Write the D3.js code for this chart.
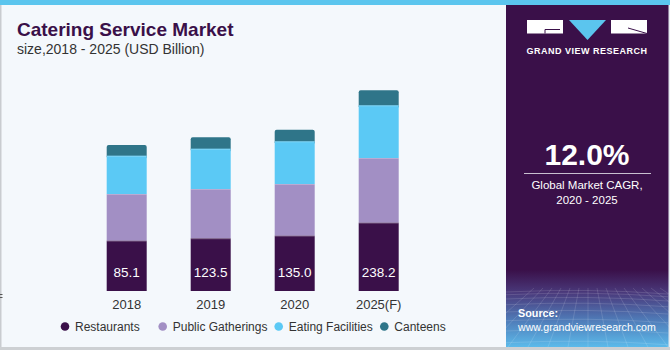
<!DOCTYPE html>
<html>
<head>
<meta charset="utf-8">
<script src="https://cdn.jsdelivr.net/npm/d3@7"></script>
<style>
  html, body { margin: 0; padding: 0; background: #fff; }
  svg { display: block; font-family: "Liberation Sans", Arial, sans-serif; }
</style>
</head>
<body>
<div id="chart"></div>
<script>
// chart values (segment heights, labels as printed)
const years = ["2018", "2019", "2020", "2025(F)"]
const restaurants = [50.3, 52.7, 55.3, 68.3]
const publicGatherings = [46.7, 49.3, 51.7, 64.7]
const eatingFacilities = [38.3, 40.3, 42.7, 52.7]
const canteens = [10.7, 11.4, 11.6, 15.0]
const valueLabels = ["85.1", "123.5", "135.0", "238.2"]
const seriesNames = ["Restaurants", "Public Gatherings", "Eating Facilities", "Canteens"]
const seriesColors = ["#3a1049", "#a28fc4", "#5bc9f5", "#2f7589"]

const width = 670, height = 350

const svg = d3.select("#chart").append("svg")
  .attr("width", width)
  .attr("height", height)

// background + borders
svg.append("rect").attr("x", 0).attr("y", 0).attr("width", width).attr("height", height).attr("fill", "#f4f8fc")
svg.append("rect").attr("x", 0).attr("y", 0).attr("width", 1.5).attr("height", height).attr("fill", "#c9ccd0")
svg.append("rect").attr("x", 0).attr("y", height - 3).attr("width", width).attr("height", 3).attr("fill", "#cdd0d3")
svg.append("rect").attr("x", 0).attr("y", 0).attr("width", width).attr("height", 5).attr("fill", "#5bc5ee")

// title
svg.append("text")
  .attr("x", 17).attr("y", 36)
  .attr("font-size", 19).attr("font-weight", "bold")
  .attr("fill", "#3a1049")
  .text("Catering Service Market")
svg.append("text")
  .attr("x", 17).attr("y", 54)
  .attr("font-size", 14)
  .attr("fill", "#333")
  .text("size,2018 - 2025 (USD Billion)")

// stacked bars
let table = years.map(function (y, i) {
  return {
    year: y,
    Restaurants: restaurants[i],
    "Public Gatherings": publicGatherings[i],
    "Eating Facilities": eatingFacilities[i],
    Canteens: canteens[i]
  }
})
let stacked = d3.stack().keys(seriesNames)(table)

let xScale = d3.scaleBand()
  .domain(years)
  .range([84.7, 420.7])
  .paddingInner(0.5238)
  .paddingOuter(0.2619)

let yScale = d3.scaleLinear()
  .domain([0, 200])
  .range([291, 91])

// draw top layer first so the rounded corners only show on top
stacked.slice().reverse().forEach(function (layer) {
  let idx = seriesNames.indexOf(layer.key)
  let isTop = idx === seriesNames.length - 1
  svg.append("g")
    .selectAll("rect")
    .data(layer)
    .join("rect")
    .attr("x", function (d) { return xScale(d.data.year) })
    .attr("y", function (d) { return yScale(d[1]) })
    .attr("width", xScale.bandwidth())
    .attr("height", function (d) { return yScale(d[0]) - yScale(d[1]) + (isTop ? 3 : 0) })
    .attr("rx", isTop ? 2 : 0)
    .attr("fill", seriesColors[idx])
})

// thin lighter seams between segments
stacked.slice(1).forEach(function (layer) {
  svg.append("g")
    .selectAll("line")
    .data(layer)
    .join("line")
    .attr("x1", function (d) { return xScale(d.data.year) })
    .attr("x2", function (d) { return xScale(d.data.year) + xScale.bandwidth() })
    .attr("y1", function (d) { return yScale(d[0]) + 0.5 })
    .attr("y2", function (d) { return yScale(d[0]) + 0.5 })
    .attr("stroke", "#ffffff")
    .attr("stroke-opacity", 0.25)
})

// value labels inside the bottom segment
svg.append("g")
  .selectAll("text")
  .data(years)
  .join("text")
  .attr("x", function (d) { return xScale(d) + xScale.bandwidth() / 2 })
  .attr("y", 277)
  .attr("text-anchor", "middle")
  .attr("font-size", 13.5)
  .attr("fill", "#fff")
  .text(function (d, i) { return valueLabels[i] })

// x axis (labels only)
let xAxis = d3.axisBottom(xScale).tickSize(0).tickPadding(9)
let xg = svg.append("g")
  .attr("transform", "translate(0,291)")
  .call(xAxis)
xg.select(".domain").remove()
xg.selectAll("text")
  .attr("font-size", 13)
  .attr("font-family", "Liberation Sans, Arial, sans-serif")
  .attr("fill", "#333")

// tiny stray mark on the left edge
svg.append("rect").attr("x", 0).attr("y", 294).attr("width", 2.5).attr("height", 1).attr("fill", "#555")
svg.append("rect").attr("x", 0).attr("y", 297).attr("width", 2.5).attr("height", 1).attr("fill", "#555")

// legend
const legendX = [65, 162.7, 278.7, 384.3]
let legend = svg.append("g")
  .selectAll("g")
  .data(seriesNames)
  .join("g")
  .attr("transform", function (d, i) { return "translate(" + legendX[i] + ",326.5)" })
legend.append("circle")
  .attr("r", 4.3)
  .attr("fill", function (d, i) { return seriesColors[i] })
legend.append("text")
  .attr("x", 10)
  .attr("y", 4.3)
  .attr("font-size", 12)
  .attr("fill", "#333")
  .text(function (d) { return d })

// right side panel
let panel = svg.append("g")
let defs = svg.append("defs")
let grad = defs.append("linearGradient")
  .attr("id", "srcGrad")
  .attr("x1", 0).attr("y1", 0).attr("x2", 0).attr("y2", 1)
grad.append("stop").attr("offset", "0%").attr("stop-color", "#3a1049")
grad.append("stop").attr("offset", "30%").attr("stop-color", "#4a3a7c")
grad.append("stop").attr("offset", "65%").attr("stop-color", "#4f7bb8")
grad.append("stop").attr("offset", "100%").attr("stop-color", "#5cbaea")

panel.append("rect").attr("x", 506).attr("y", 5).attr("width", 164).attr("height", 275).attr("fill", "#3a1049")
panel.append("rect").attr("x", 506).attr("y", 270).attr("width", 164).attr("height", 77).attr("fill", "url(#srcGrad)")
panel.append("rect").attr("x", 668.5).attr("y", 5).attr("width", 1.5).attr("height", 342).attr("fill", "#e6ecf2")

// faint mesh in the source box
let mesh = panel.append("g").attr("stroke", "#ffffff").attr("stroke-opacity", 0.13).attr("fill", "none")
d3.range(0, 9).forEach(function (k) {
  let y = 292 + k * k * 0.75 + k * 2
  mesh.append("path").attr("d", "M506," + y + " Q588," + (y - 4) + " 668," + (y + 2))
})
d3.range(-6, 14).forEach(function (k) {
  let xTop = 588 + k * 9
  let xBot = 588 + k * 20
  mesh.append("line").attr("x1", xTop).attr("y1", 288).attr("x2", xBot).attr("y2", 347)
})

// logo
let logo = panel.append("g")
logo.append("rect").attr("x", 527).attr("y", 20).attr("width", 36).attr("height", 13.5).attr("fill", "#fff")
logo.append("path").attr("d", "M545,33.5 L545,29.5 L560,29.5").attr("stroke", "#3a1049").attr("stroke-width", 1).attr("fill", "none")
logo.append("path").attr("d", "M569,20 L606,20 L587.5,40 Z").attr("fill", "#5bc5ee")
logo.append("rect").attr("x", 611).attr("y", 20).attr("width", 36).attr("height", 13.5).attr("fill", "#fff")
logo.append("path").attr("d", "M628,28 L647,33.5").attr("stroke", "#3a1049").attr("stroke-width", 1)
logo.append("text")
  .attr("x", 587).attr("y", 54)
  .attr("text-anchor", "middle")
  .attr("font-size", 9).attr("font-weight", "bold")
  .attr("letter-spacing", 0.5)
  .attr("fill", "#fff")
  .text("GRAND VIEW RESEARCH")

// CAGR
panel.append("text")
  .attr("x", 587).attr("y", 165)
  .attr("text-anchor", "middle")
  .attr("font-size", 30).attr("font-weight", "bold")
  .attr("fill", "#fff")
  .text("12.0%")
panel.append("line")
  .attr("x1", 524).attr("x2", 651).attr("y1", 173.5).attr("y2", 173.5)
  .attr("stroke", "#c8c0d0").attr("stroke-width", 1.2)
panel.append("text")
  .attr("x", 587).attr("y", 189)
  .attr("text-anchor", "middle")
  .attr("font-size", 11.5)
  .attr("fill", "#fff")
  .text("Global Market CAGR,")
panel.append("text")
  .attr("x", 587).attr("y", 204)
  .attr("text-anchor", "middle")
  .attr("font-size", 11.5)
  .attr("fill", "#fff")
  .text("2020 - 2025")

// source
panel.append("text")
  .attr("x", 518).attr("y", 317)
  .attr("font-size", 10.8).attr("font-weight", "bold")
  .attr("fill", "#fff")
  .text("Source:")
panel.append("text")
  .attr("x", 518).attr("y", 331)
  .attr("font-size", 10.6)
  .attr("fill", "#fff")
  .text("www.grandviewresearch.com")
</script>
</body>
</html>
